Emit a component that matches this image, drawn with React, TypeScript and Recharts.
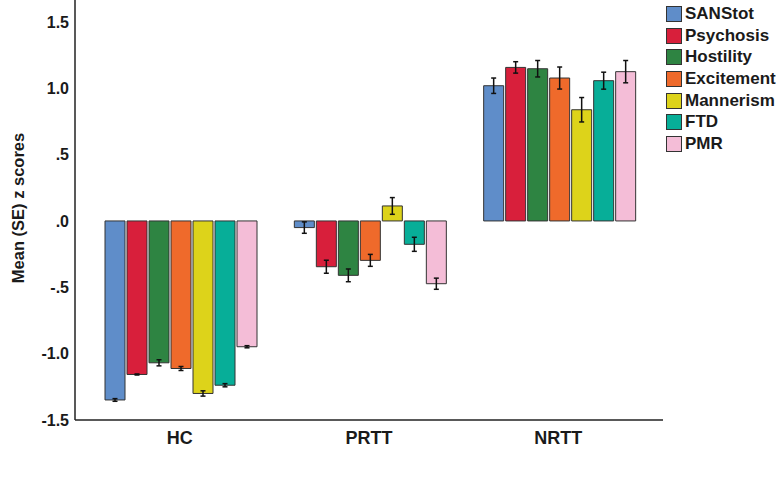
import React from 'react';
import {
  BarChart,
  Bar,
  XAxis,
  YAxis,
  Legend,
  ErrorBar
} from 'recharts';

const groups = ['HC', 'PRTT', 'NRTT'];

const sanstot = [-1.349, -0.05, 1.019];
const psychosis = [-1.157, -0.345, 1.157];
const hostility = [-1.069, -0.41, 1.147];
const excitement = [-1.112, -0.297, 1.077];
const mannerism = [-1.3, 0.113, 0.838];
const ftd = [-1.238, -0.176, 1.057];
const pmr = [-0.948, -0.473, 1.125];

const sanstotSE = [0.01, 0.043, 0.058];
const psychosisSE = [0.004, 0.049, 0.043];
const hostilitySE = [0.023, 0.048, 0.062];
const excitementSE = [0.015, 0.045, 0.083];
const mannerismSE = [0.02, 0.063, 0.092];
const ftdSE = [0.012, 0.053, 0.064];
const pmrSE = [0.008, 0.042, 0.084];

const yTicks = [-1.5, -1.0, -0.5, 0, 0.5, 1.0, 1.5];

const series = [
  { key: 'SANStot', values: sanstot, se: sanstotSE, color: '#5f8dc9' },
  { key: 'Psychosis', values: psychosis, se: psychosisSE, color: '#d81f3b' },
  { key: 'Hostility', values: hostility, se: hostilitySE, color: '#2e8442' },
  { key: 'Excitement', values: excitement, se: excitementSE, color: '#ef6a2b' },
  { key: 'Mannerism', values: mannerism, se: mannerismSE, color: '#ddd31a' },
  { key: 'FTD', values: ftd, se: ftdSE, color: '#07ae98' },
  { key: 'PMR', values: pmr, se: pmrSE, color: '#f4bdd7' }
];

const data = groups.map((g, i) => {
  const row: any = { group: g };
  series.forEach(s => {
    row[s.key] = s.values[i];
    row[s.key + 'SE'] = s.se[i];
  });
  return row;
});

const FONT = '"Liberation Sans", Arial, sans-serif';

// SPSS style: ".5", "-1.0", ".0"
const fmt = (v: number) => v.toFixed(1).replace(/^(-?)0\./, '$1.');

// legend keeps the series order (recharts would sort it by name)
const LegendBox = () => (
  <div style={{ fontFamily: FONT, fontWeight: 'bold', fontSize: 17, color: '#1a1a1a' }}>
    {series.map(s => (
      <div key={s.key} style={{ display: 'flex', alignItems: 'center', height: 21.7 }}>
        <span
          style={{
            display: 'inline-block',
            width: 14,
            height: 14,
            background: s.color,
            border: '1px solid #333',
            marginRight: 3
          }}
        />
        <span>{s.key}</span>
      </div>
    ))}
  </div>
);

export default function App() {
  return (
    <div style={{ position: 'absolute', left: 0, top: 0, width: 776, height: 492, background: '#fff' }}>
      <BarChart
        width={776}
        height={492}
        data={data}
        margin={{ top: 0, right: 113, bottom: 0, left: 0 }}
        barCategoryGap={20}
        barGap={2}
      >
        <XAxis
          dataKey="group"
          height={72}
          tickLine={false}
          tickSize={0}
          tickMargin={11}
          padding={{ left: 10, right: 10 }}
          axisLine={{ stroke: '#222', strokeWidth: 1.5 }}
          tick={{ fill: '#1a1a1a', fontSize: 18, fontWeight: 'bold', fontFamily: FONT }}
        />
        <YAxis
          width={75}
          domain={[-1.5, 1.665]}
          ticks={yTicks}
          allowDataOverflow
          tickFormatter={fmt}
          tickLine={false}
          tickSize={0}
          tickMargin={6}
          axisLine={{ stroke: '#222', strokeWidth: 1.5 }}
          tick={{ fill: '#1a1a1a', fontSize: 16, fontWeight: 'bold', fontFamily: FONT }}
          label={{
            content: () => (
              <text
                x={24}
                y={208}
                transform="rotate(-90 24 208)"
                textAnchor="middle"
                fill="#1a1a1a"
                fontSize={16.5}
                fontWeight="bold"
                fontFamily={FONT}
              >
                Mean (SE) z scores
              </text>
            )
          }}
        />
        <Legend
          layout="horizontal"
          verticalAlign="middle"
          align="center"
          content={<LegendBox />}
          wrapperStyle={{ top: 3, left: 666, width: 110 }}
        />
        {series.map(s => (
          <Bar
            key={s.key}
            dataKey={s.key}
            name={s.key}
            fill={s.color}
            stroke="#333"
            strokeWidth={1}
            isAnimationActive={false}
          >
            <ErrorBar dataKey={s.key + 'SE'} width={2.5} stroke="#111" strokeWidth={1.5} direction="y" />
          </Bar>
        ))}
      </BarChart>
    </div>
  );
}
